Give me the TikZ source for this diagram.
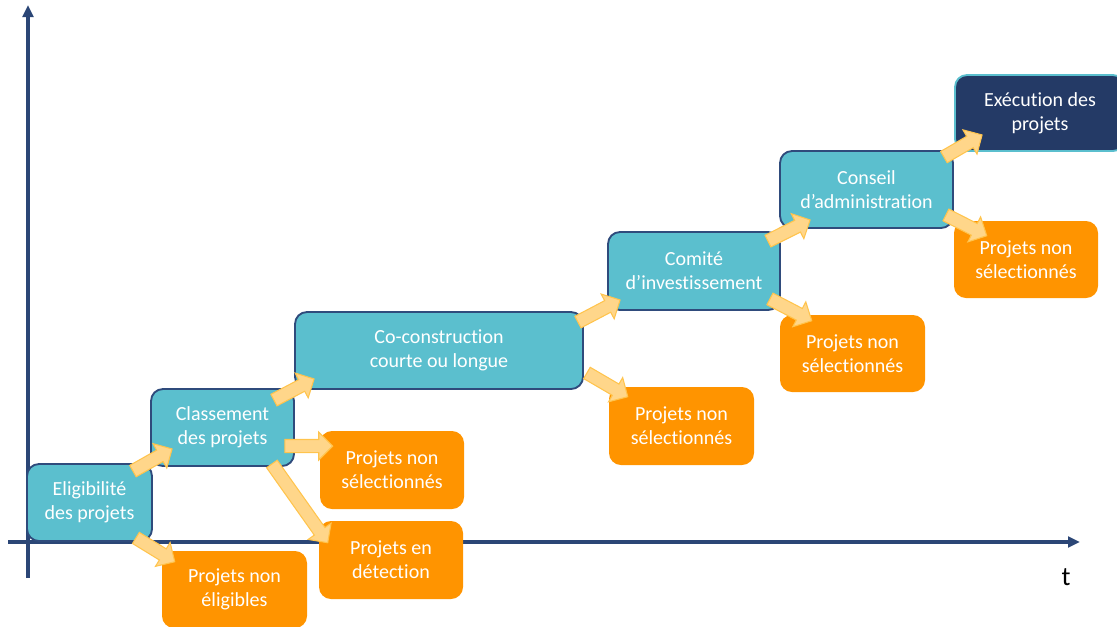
\documentclass[tikz,border=0pt]{standalone}
\usepackage{fontspec}
\setmainfont{Carlito}[Ligatures={NoCommon}]
\usetikzlibrary{calc,arrows.meta}
\newdimen\pxu \pxu=0.75pt
\definecolor{tealbox}{HTML}{5BBFCE}
\definecolor{tealline}{HTML}{2F4B7C}
\definecolor{navybox}{HTML}{243A66}
\definecolor{orangebox}{HTML}{FF9400}
\definecolor{arrfill}{HTML}{FFD68A}
\definecolor{arrline}{HTML}{FFC44D}
\definecolor{axiscol}{HTML}{2B4676}
\tikzset{
  stage/.style={draw=tealline, fill=tealbox, line width=1.4pt, rounded corners=9pt,
    text=white, align=center, inner sep=0pt, font=\fontsize{15}{18}\selectfont},
  finalbox/.style={stage, draw=tealbox, fill=navybox},
  outbox/.style={fill=orangebox, rounded corners=9pt, text=white, align=center,
    inner sep=0pt, font=\fontsize{15}{18}\selectfont},
  barr/.style={fill=arrfill, draw=arrline, line width=0.8pt, line join=miter},
  axisline/.style={draw=axiscol, line width=2.5pt, -{Triangle[length=9pt,width=8pt]}}
}
\newcommand\barrow[2]{%
  \coordinate (ba) at #1; \coordinate (bb) at #2;
  \coordinate (bh) at ($(bb)!10.5pt!(ba)$);
  \filldraw[barr] ($(ba)!4.9pt!90:(bb)$) -- ($(bh)!4.9pt!-90:(ba)$) -- ($(bh)!10.5pt!-90:(ba)$)
    -- (bb) -- ($(bh)!10.5pt!90:(ba)$) -- ($(bh)!4.9pt!90:(ba)$) -- ($(ba)!4.9pt!-90:(bb)$) -- cycle;
}
\begin{document}
\begin{tikzpicture}[x=0.75pt,y=-0.75pt]
\useasboundingbox (0,0) rectangle (1117,626);
\clip (0,0) rectangle (1117,626);
% axes
\draw[axisline] (28,578) coordinate (yb) -- (28,5) coordinate (yt);
\draw[axisline] (8,542) coordinate (xl) -- (1080,542) coordinate (xr);
\node[font=\fontsize{20}{24}\selectfont] (tlab) at (1066,577) {t};
% stages
\node[stage, minimum width=125\pxu, minimum height=77\pxu] (elig) at (89.5,502.5) {Eligibilité\\des projets};
\node[stage, minimum width=143\pxu, minimum height=77\pxu] (class) at (222.5,427.5) {Classement\\des projets};
\node[stage, minimum width=288\pxu, minimum height=77\pxu] (cocon) at (439,350.5) {Co-construction\\courte ou longue};
\node[stage, minimum width=172\pxu, minimum height=78\pxu] (comite) at (694,271) {Comité\\d’investissement};
\node[stage, minimum width=173\pxu, minimum height=77\pxu] (conseil) at (866.5,189.5) {Conseil\\d’administration};
\node[finalbox, minimum width=170\pxu, minimum height=76\pxu] (exec) at (1040,113) {Exécution des\\projets};
% outcomes
\node[outbox, minimum width=145\pxu, minimum height=77\pxu] (ne) at (234.5,589.5) {Projets non\\éligibles};
\node[outbox, minimum width=144\pxu, minimum height=78\pxu] (ns1) at (392,470) {Projets non\\sélectionnés};
\node[outbox, minimum width=144\pxu, minimum height=78\pxu] (det) at (391,560) {Projets en\\détection};
\node[outbox, minimum width=145\pxu, minimum height=78\pxu] (ns2) at (681.5,426) {Projets non\\sélectionnés};
\node[outbox, minimum width=145\pxu, minimum height=77\pxu] (ns3) at (852.5,353.5) {Projets non\\sélectionnés};
\node[outbox, minimum width=144\pxu, minimum height=77\pxu] (ns4) at (1026,259.5) {Projets non\\sélectionnés};
% block arrows
\barrow{($(elig.north east)+(-20,8)$)}{($(class.south west)+(22,-18)$)}
\barrow{($(elig.south east)+(-17,-4)$)}{($(ne.north west)+(13,11)$)}
\barrow{($(class.north east)+(-21,12)$)}{($(cocon.south west)+(20,-11)$)}
\barrow{($(class.east)+(-10,18.5)$)}{($(ns1.west)+(13,-24)$)}
\barrow{($(class.south east)+(-23,-3)$)}{($(det.north west)+(9,22)$)}
\barrow{($(cocon.north east)+(-6,11)$)}{($(comite.south west)+(13,-11)$)}
\barrow{($(cocon.south east)+(3,-17)$)}{($(ns2.north west)+(19,10)$)}
\barrow{($(comite.north east)+(-13,10)$)}{($(conseil.south west)+(31,-9)$)}
\barrow{($(comite.south east)+(-11,-12)$)}{($(ns3.north west)+(32,6)$)}
\barrow{($(conseil.north east)+(-10,7)$)}{($(exec.south west)+(28,-17)$)}
\barrow{($(conseil.south east)+(-8,-14)$)}{($(ns4.north west)+(33,15)$)}
\end{tikzpicture}
\end{document}
